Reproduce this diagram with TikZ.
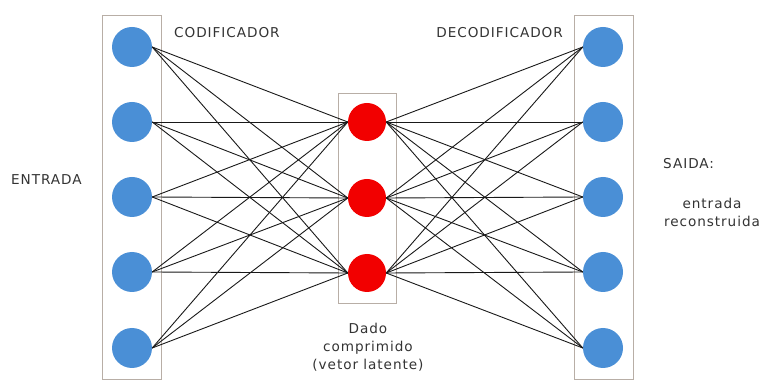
\documentclass[tikz,border=0pt]{standalone}
\usepackage{fontspec}
\setmainfont{DejaVu Sans}[LetterSpace=7]
\begin{document}
\begin{tikzpicture}[x=1pt,y=-1pt,
  unit/.style={circle, minimum size=40pt, inner sep=0pt},
  io/.style={unit, fill=ioblue},
  latent/.style={unit, minimum size=38pt, fill=latentred},
  layerbox/.style={draw=boxgray, line width=0.9pt},
  link/.style={draw=black!90, line width=0.9pt},
  lbl/.style={font=\fontsize{13.6}{18}\selectfont, text=black!80, inner sep=0pt}
]
\definecolor{ioblue}{HTML}{4A8FD6}
\definecolor{latentred}{HTML}{F20000}
\definecolor{boxgray}{HTML}{B8AEA6}
\useasboundingbox (0,0) rectangle (761,387);

% layer frames
\draw[layerbox] (102,15) rectangle (161,379);
\draw[layerbox] (338,93) rectangle (396,303);
\draw[layerbox] (574,15) rectangle (633,379);

% input, latent and output units
\foreach \i/\y in {1/47,2/122,3/197,4/272,5/348} {
  \node[io] (in\i) at (132,\y) {};
  \node[io] (out\i) at (603,\y) {};
}
\foreach \j/\y in {1/122,2/198,3/273} {
  \node[latent] (z\j) at (367,\y) {};
}

% fully connected links
\foreach \i in {1,...,5} {
  \foreach \j in {1,2,3} {
    \draw[link] (in\i.east) -- (z\j.west);
    \draw[link] (z\j.east) -- (out\i.west);
  }
}

% labels
\node[lbl, anchor=west] (enc) at (174,33) {CODIFICADOR};
\node[lbl, anchor=east] (dec) at (563,33) {DECODIFICADOR};
\node[lbl, anchor=west] (inp) at (11,180) {ENTRADA};
\node[lbl, anchor=west] (outp) at (663,164) {SAIDA:};
\node[lbl, align=center] (rec) at (712,212) {entrada\\reconstruida};
\node[lbl, align=center] (cmp) at (368,347) {Dado\\comprimido\\(vetor latente)};
\end{tikzpicture}
\end{document}
